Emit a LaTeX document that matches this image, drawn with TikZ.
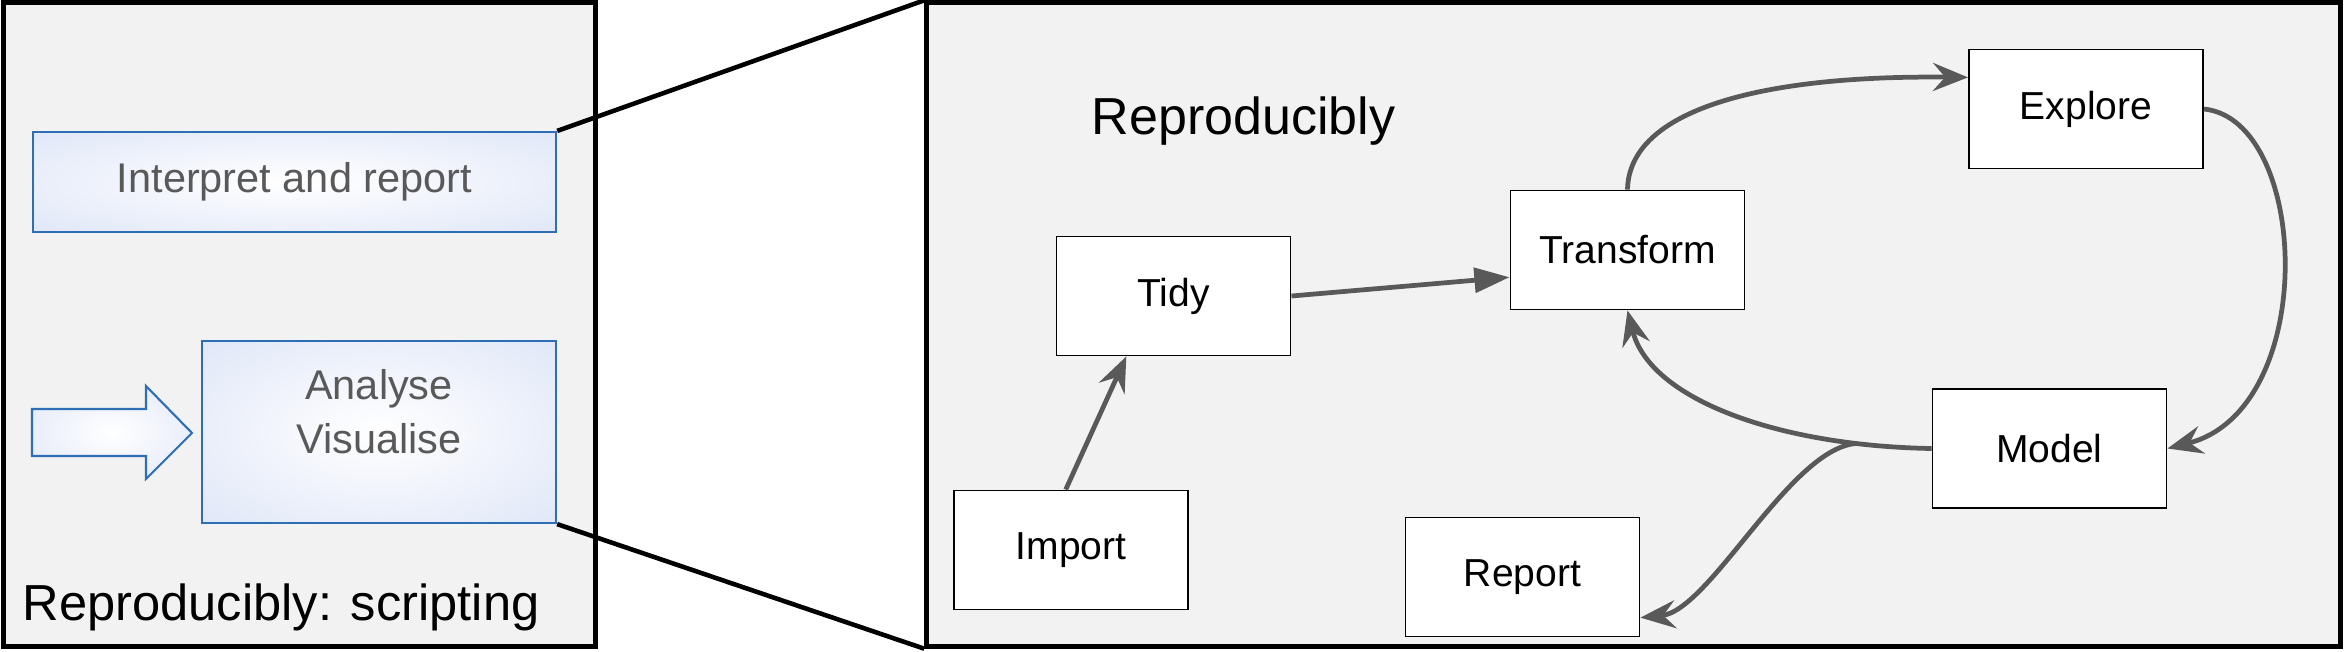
\documentclass[tikz,border=0pt]{standalone}
\usepackage{fontspec}
\setmainfont{Liberation Sans}
\definecolor{panel}   {HTML}{F2F2F2}
\definecolor{ink}     {HTML}{000000}
\definecolor{wire}    {HTML}{595959}
\definecolor{mute}    {HTML}{595959}
\definecolor{edgeblue}{HTML}{2E6EB5}
\definecolor{boxblue} {HTML}{D4DDF5}
\usetikzlibrary{arrows.meta,calc}
\pgfdeclareradialshading{glow}{\pgfpoint{0bp}{0bp}}{color(0bp)=(white); color(50bp)=(boxblue)}
\tikzset{
  frame/.style={draw=ink,line width=1.4pt,fill=panel,inner sep=0pt},
  stage/.style={draw=ink,line width=0.5pt,fill=white,minimum width=2.34cm,
                minimum height=1.19cm,font=\fontsize{11.1pt}{13pt}\selectfont},
  bluebox/.style={draw=edgeblue,line width=0.6pt,shading=glow,inner sep=0pt},
  bluetext/.style={text=mute,align=center,font=\fontsize{11.8pt}{15.4pt}\selectfont},
  title/.style={font=\fontsize{14.8pt}{17pt}\selectfont,inner sep=0pt},
  flow/.style={draw=wire,line width=1.35pt,-{Stealth[length=10pt,width=8pt,inset=3.5pt]}},
  push/.style={draw=wire,line width=1.35pt,-{Triangle[length=10pt,width=7pt]}},
  zoomline/.style={draw=ink,line width=1.3pt}
}

\begin{document}
\begin{tikzpicture}[x=0.01cm,y=-0.01cm]
    \useasboundingbox (0,0) rectangle (2344,651);
    % the two panels
    \node[frame,minimum width=5.91cm,minimum height=6.43cm] (left) at (299.5,324.5) {};
    \node[frame,minimum width=14.13cm,minimum height=6.43cm] (right) at (1633.5,324.5) {};

    % scripting side
    \node[bluebox,bluetext,minimum width=5.23cm,minimum height=1cm] (interpret) at (294.5,182) {Interpret and report};
    \node[bluebox,minimum width=3.54cm,minimum height=1.82cm] (analyse) at (379,432) {};
    \node[bluetext] (analysetxt) at (379,412) {Analyse\\Visualise};
    \draw[bluebox] (32,409) -- (146,409) -- (146,386) -- (192,433)
        -- (146,479) -- (146,456) -- (32,456) -- cycle;
    \node[title,anchor=base west,font=\fontsize{14.4pt}{17pt}\selectfont] (scripting) at (22,620) {Reproducibly: scripting};

    % zoom lines
    \draw[zoomline] (interpret.north east) -- (right.north west);
    \draw[zoomline] (analyse.south east) -- (right.south west);

    % the cycle
    \node[title,anchor=base west] (repro) at (1091,134) {Reproducibly};
    \node[stage] (import)    at (1071,550)    {Import};
    \node[stage] (tidy)      at (1173.5,296)  {Tidy};
    \node[stage] (transform) at (1627.5,250)  {Transform};
    \node[stage] (explore)   at (2086,109)    {Explore};
    \node[stage] (model)     at (2049.5,448.5) {Model};
    \node[stage] (report)    at (1522.5,577)  {Report};

    \draw[flow] (import.95) -- (tidy.232);
    \draw[push] (tidy.east) -- (transform.193);
    \draw[flow] (transform.north) .. controls (1629,110) and (1760,75) .. (explore.165);
    \draw[flow] (explore.east) .. controls (2310,120) and (2320,410) .. (model.east);
    \draw[flow] (model.west) .. controls (1780,446) and (1650,400)
        .. coordinate[pos=0.17] (split) (transform.south);
    \draw[flow] (split) .. controls (1790,448) and (1710,611) .. (report.-19);
\end{tikzpicture}
\end{document}
